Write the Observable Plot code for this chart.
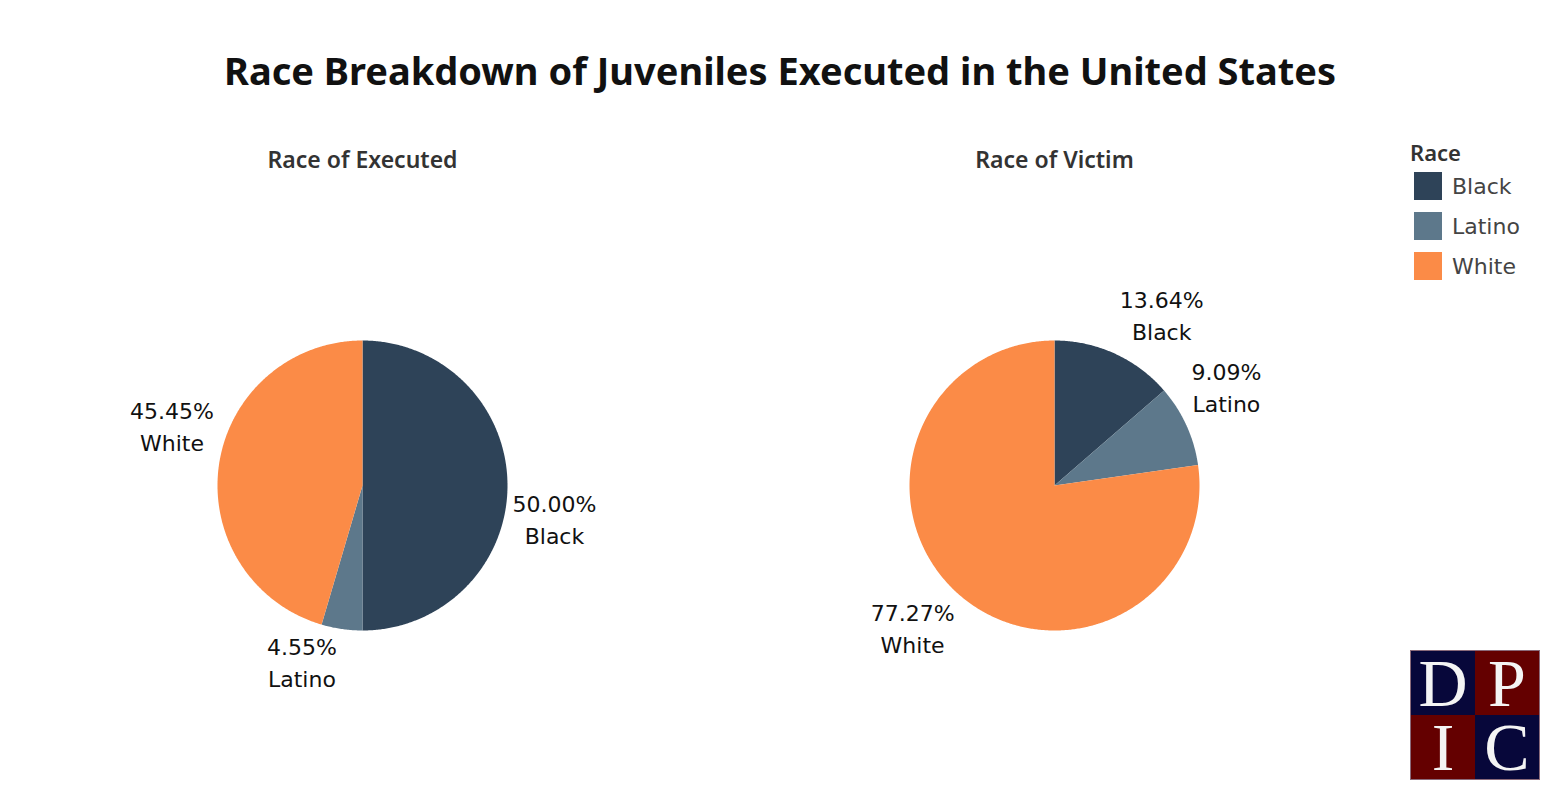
<!DOCTYPE html>
<html>
<head>
<meta charset="utf-8">
<script src="https://cdn.jsdelivr.net/npm/d3@7"></script>
<script src="https://cdn.jsdelivr.net/npm/@observablehq/plot@0.6"></script>
<style>
  html, body { margin: 0; padding: 0; background: #fff; }
  body { width: 1560px; height: 800px; position: relative; overflow: hidden; font-family: "Noto Sans", "Open Sans", sans-serif; }
  #title { height: 110px; box-sizing: border-box; padding-top: 47px; text-align: center; font-size: 38px; line-height: 46px; font-weight: 700; color: #111; }
  #legend { position: absolute; left: 1410px; top: 138px; color: #444; }
  #legend .lt { font-size: 22px; font-weight: 600; color: #333; line-height: 28px; margin-bottom: 0px; }
  #legend .row { display: flex; align-items: center; height: 40px; }
  #legend .sw { width: 28px; height: 28px; margin-left: 4px; margin-right: 10px; }
  #legend .lab { font-size: 22px; font-family: "DejaVu Sans", sans-serif; }
  #logo { position: absolute; left: 1410px; top: 650px; width: 130px; height: 130px; box-sizing: border-box; display: grid; grid-template-columns: 64px 64px; grid-template-rows: 64px 64px; border: 1px solid #8a6a7a; }
  #logo div { width: 64px; height: 64px; text-align: center; color: #f4f4f4; font-family: "Liberation Serif", "DejaVu Serif", serif; font-size: 68px; line-height: 64px; }
  #logo .n { background: #07073a; }
  #logo .m { background: #640000; }
</style>
</head>
<body>
<div id="title">Race Breakdown of Juveniles Executed in the United States</div>
<div id="chart"></div>
<div id="legend"></div>
<div id="logo"></div>
<script>
// ---- data ----
const charts = ["Race of Executed", "Race of Victim"];
const races = ["Black", "Latino", "White"];
const executedPct = [50.00, 4.55, 45.45];
const victimPct = [13.64, 9.09, 77.27];
const raceColors = ["#2e4358", "#5d788b", "#fb8b47"];
const logoLetters = ["D", "P", "I", "C"];

// ---- build table ----
const seriesByChart = [executedPct, victimPct];
const slices = [];
charts.forEach((c, ci) => {
  const vals = seriesByChart[ci];
  const total = d3.sum(vals);
  let acc = 0;
  races.forEach((r, ri) => {
    const a0 = acc / total * 2 * Math.PI;
    acc += vals[ri];
    const a1 = acc / total * 2 * Math.PI;
    slices.push({chart: c, race: r, pct: vals[ri], a0, a1});
  });
});

// polygon vertices for each wedge (unit circle, clockwise from 12 o'clock)
const wedgePts = [];
slices.forEach((s, i) => {
  const n = Math.max(2, Math.ceil((s.a1 - s.a0) / (Math.PI / 360)));
  wedgePts.push({chart: s.chart, race: s.race, key: i, x: 0, y: 0});
  for (let k = 0; k <= n; k++) {
    const a = s.a0 + (s.a1 - s.a0) * k / n;
    wedgePts.push({chart: s.chart, race: s.race, key: i, x: Math.sin(a), y: Math.cos(a)});
  }
  wedgePts.push({chart: s.chart, race: s.race, key: i, x: 0, y: 0});
});

// ---- layout constants ----
const W = 1560, H = 690, mL = 16, mR = 160;
const facetW = (W - mL - mR) / 2;
const R = 145, cy = 375;
const labelFont = "22px 'DejaVu Sans'";
const lineH = 32;

// label boxes: a corner touches the slice's mid-angle point on the rim
const ctx = document.createElement("canvas").getContext("2d");
ctx.font = labelFont;
const labels = slices.map(s => {
  const m = (s.a0 + s.a1) / 2;
  const px = Math.sin(m), py = Math.cos(m);
  const t1 = s.pct.toFixed(2) + "%", t2 = s.race;
  const w = Math.max(ctx.measureText(t1).width, ctx.measureText(t2).width);
  const sx = px >= 0 ? 1 : -1;
  const sy = py > 1e-9 ? 1 : -1;
  const gapY = sy > 0 ? 8 : 0;
  return {chart: s.chart,
          x: px + sx * (w / 2 + 5) / R,
          y: py + sy * (lineH + gapY) / R,
          text: t1 + "\n" + t2};
});
const titles = charts.map(c => ({chart: c, text: c}));

// ---- plot ----
const plot = Plot.plot({
  width: W, height: H,
  marginLeft: mL, marginRight: mR, marginTop: 0, marginBottom: 0,
  style: {fontFamily: "'Noto Sans', 'Open Sans', sans-serif", background: "white"},
  fx: {domain: charts, padding: 0, axis: null},
  x: {domain: [-facetW / 2 / R, facetW / 2 / R], axis: null},
  y: {domain: [-(H - cy) / R, cy / R], axis: null},
  color: {domain: races, range: raceColors},
  marks: [
    Plot.line(wedgePts, {fx: "chart", x: "x", y: "y", z: "key", fill: "race", stroke: "none", curve: "linear"}),
    Plot.text(labels, {fx: "chart", x: "x", y: "y", text: "text", fontSize: 22, fontFamily: "'DejaVu Sans', sans-serif", lineHeight: lineH / 22, fill: "#111", textAnchor: "middle"}),
    Plot.text(titles, {fx: "chart", text: "text", frameAnchor: "top", dy: 50, lineAnchor: "middle", fontSize: 23, fontWeight: 600, fill: "#333"})
  ]
});
document.getElementById("chart").appendChild(plot);

// ---- legend ----
const lg = document.getElementById("legend");
const lt = document.createElement("div"); lt.className = "lt"; lt.textContent = "Race"; lg.appendChild(lt);
races.forEach((r, i) => {
  const row = document.createElement("div"); row.className = "row";
  const sw = document.createElement("div"); sw.className = "sw"; sw.style.background = plot.scale("color").apply(r);
  const lab = document.createElement("div"); lab.className = "lab"; lab.textContent = r;
  row.appendChild(sw); row.appendChild(lab); lg.appendChild(row);
});

// ---- logo ----
const logo = document.getElementById("logo");
logoLetters.forEach((l, i) => {
  const d = document.createElement("div");
  d.className = (i === 0 || i === 3) ? "n" : "m";
  d.textContent = l;
  logo.appendChild(d);
});
</script>
</body>
</html>
